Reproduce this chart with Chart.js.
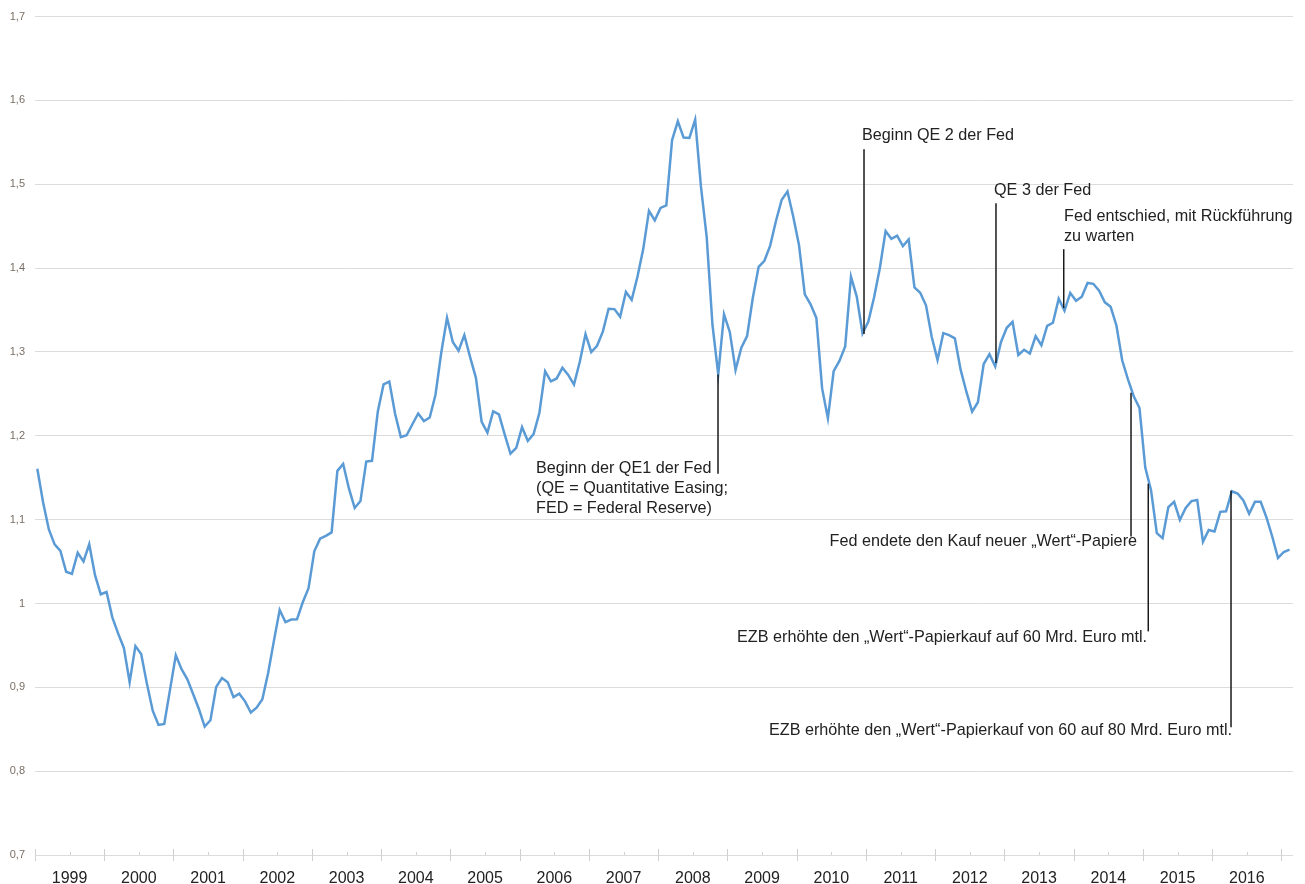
<!DOCTYPE html>
<html>
<head>
<meta charset="utf-8">
<script src="https://cdn.jsdelivr.net/npm/chart.js@4"></script>
<style>
  html, body { margin: 0; padding: 0; background: #fff; }
  #wrap { width: 1305px; height: 884px; position: relative; }
</style>
</head>
<body>
<div id="wrap"><canvas id="fxChart"></canvas></div>
<script>
// Euro in US-Dollar, Monatswerte ab Januar 1999
const yearLabels = ['1999','2000','2001','2002','2003','2004','2005','2006','2007',
                    '2008','2009','2010','2011','2012','2013','2014','2015','2016'];

const eurUsd = [
  1.1608,1.1208,1.0883,1.0704,1.0628,1.0378,1.0353,1.0604,1.0501,1.0706,1.0338,1.0110, // 1999
  1.0137,0.9834,0.9643,0.9470,0.9060,0.9492,0.9397,0.9041,0.8721,0.8552,0.8564,0.8973, // 2000
  0.9383,0.9217,0.9095,0.8920,0.8742,0.8532,0.8607,0.9005,0.9111,0.9059,0.8883,0.8924, // 2001
  0.8833,0.8700,0.8758,0.8858,0.9170,0.9554,0.9922,0.9778,0.9808,0.9811,1.0014,1.0183, // 2002
  1.0622,1.0773,1.0807,1.0848,1.1582,1.1663,1.1372,1.1139,1.1222,1.1692,1.1702,1.2286, // 2003
  1.2613,1.2646,1.2262,1.1985,1.2007,1.2138,1.2266,1.2176,1.2218,1.2490,1.2991,1.3408, // 2004
  1.3119,1.3014,1.3201,1.2938,1.2694,1.2165,1.2037,1.2292,1.2256,1.2015,1.1786,1.1856, // 2005
  1.2103,1.1938,1.2020,1.2271,1.2770,1.2650,1.2684,1.2811,1.2727,1.2611,1.2881,1.3213, // 2006
  1.2999,1.3074,1.3242,1.3516,1.3511,1.3419,1.3716,1.3622,1.3896,1.4227,1.4684,1.4570, // 2007
  1.4718,1.4748,1.5527,1.5751,1.5557,1.5553,1.5770,1.4975,1.4370,1.3322,1.2732,1.3449, // 2008
  1.3239,1.2785,1.3050,1.3190,1.3650,1.4016,1.4088,1.4268,1.4562,1.4816,1.4914,1.4614, // 2009
  1.4272,1.3686,1.3569,1.3406,1.2565,1.2209,1.2770,1.2894,1.3067,1.3898,1.3661,1.3220, // 2010
  1.3360,1.3649,1.3999,1.4442,1.4349,1.4388,1.4264,1.4343,1.3770,1.3706,1.3556,1.3179, // 2011
  1.2905,1.3224,1.3201,1.3162,1.2789,1.2526,1.2288,1.2400,1.2856,1.2974,1.2828,1.3119, // 2012
  1.3288,1.3359,1.2964,1.3026,1.2982,1.3189,1.3080,1.3310,1.3348,1.3635,1.3493,1.3704, // 2013
  1.3610,1.3659,1.3823,1.3813,1.3732,1.3592,1.3539,1.3316,1.2901,1.2673,1.2472,1.2331, // 2014
  1.1621,1.1350,1.0838,1.0779,1.1150,1.1213,1.0996,1.1139,1.1221,1.1235,1.0736,1.0877, // 2015
  1.0860,1.1093,1.1100,1.1339,1.1311,1.1229,1.1069,1.1212,1.1212,1.1026,1.0799,1.0543, // 2016
  1.0614,1.0643                                                                         // 2017
];

// Anmerkungen: Linie bei Monat "at" von Wert "from" bis "to", Text bei (tx, ty)
const notes = [
  { at: 117.96, from: 1.2732, to: 1.1548, tx: 86.42, ty: 1.1607, align: 'left',
    text: ['Beginn der QE1 der Fed', '(QE = Quantitative Easing;', 'FED = Federal Reserve)'] },
  { at: 143.26, from: 1.3214, to: 1.5417, tx: 142.91, ty: 1.5583, align: 'left',
    text: ['Beginn QE 2 der Fed'] },
  { at: 166.13, from: 1.2869, to: 1.4774, tx: 165.79, ty: 1.4929, align: 'left',
    text: ['QE 3 der Fed'] },
  { at: 177.87, from: 1.3524, to: 1.4226, tx: 177.92, ty: 1.4619, align: 'left',
    text: ['Fed entschied, mit Rückführung', 'zu warten'] },
  { at: 189.53, from: 1.2512, to: 1.0798, tx: 190.57, ty: 1.0738, align: 'right',
    text: ['Fed endete den Kauf neuer „Wert“-Papiere'] },
  { at: 192.52, from: 1.1429, to: 0.9667, tx: 192.30, ty: 0.9595, align: 'right',
    text: ['EZB erhöhte den „Wert“-Papierkauf auf 60 Mrd. Euro mtl.'] },
  { at: 206.86, from: 1.1345, to: 0.8524, tx: 207.03, ty: 0.8488, align: 'right',
    text: ['EZB erhöhte den „Wert“-Papierkauf von 60 auf 80 Mrd. Euro mtl.'] }
];

const FONT = '"Liberation Sans", Arial, Helvetica, sans-serif';

// Jahresstriche an der x-Achse
const yearTicks = {
  id: 'yearTicks',
  afterDraw(chart) {
    const ctx = chart.ctx;
    const x = chart.scales.x;
    const bottom = chart.chartArea.bottom;
    ctx.save();
    ctx.strokeStyle = '#d0d0d0';
    ctx.lineWidth = 1;
    for (let k = 0; k <= yearLabels.length; k++) {
      const px = Math.round(x.getPixelForValue(k * 12 - 0.4)) + 0.5;
      ctx.beginPath();
      ctx.moveTo(px, bottom - 6);
      ctx.lineTo(px, bottom + 6);
      ctx.stroke();
      if (k < yearLabels.length) {
        const mx = Math.round(x.getPixelForValue(k * 12 + 5.6)) + 0.5;
        ctx.beginPath();
        ctx.moveTo(mx, bottom - 3);
        ctx.lineTo(mx, bottom);
        ctx.stroke();
      }
    }
    ctx.restore();
  }
};

const noteLines = {
  id: 'noteLines',
  afterDatasetsDraw(chart) {
    const ctx = chart.ctx;
    const x = chart.scales.x, y = chart.scales.y;
    ctx.save();
    ctx.strokeStyle = '#1a1a1a';
    ctx.lineWidth = 1.5;
    ctx.fillStyle = '#222';
    ctx.font = '16.2px ' + FONT;
    ctx.textBaseline = 'middle';
    notes.forEach(n => {
      const px = x.getPixelForValue(n.at);
      ctx.beginPath();
      ctx.moveTo(px, y.getPixelForValue(n.from));
      ctx.lineTo(px, y.getPixelForValue(n.to));
      ctx.stroke();
      ctx.textAlign = n.align;
      const tx = x.getPixelForValue(n.tx);
      const ty = y.getPixelForValue(n.ty);
      n.text.forEach((line, i) => ctx.fillText(line, tx, ty + i * 20));
    });
    ctx.restore();
  }
};

new Chart('fxChart', {
  type: 'line',
  data: {
    datasets: [{
      data: eurUsd.map((v, i) => ({ x: i, y: v })),
      borderColor: '#5b9bd5',
      borderWidth: 2.5,
      pointRadius: 0,
      tension: 0,
      fill: false
    }]
  },
  options: {
    responsive: true,
    maintainAspectRatio: false,
    animation: false,
    layout: { padding: { top: 15, right: 12, left: 0, bottom: 0 } },
    plugins: {
      legend: { display: false },
      tooltip: { enabled: false }
    },
    scales: {
      x: {
        type: 'linear',
        min: -0.4,
        max: 217.6,
        grid: { display: false },
        border: { display: false },
        afterBuildTicks: scale => {
          scale.ticks = yearLabels.map((l, k) => ({ value: k * 12 + 5.6 }));
        },
        afterFit: scale => { scale.height = 29; },
        ticks: {
          autoSkip: false,
          maxRotation: 0,
          padding: 6,
          color: '#222',
          font: { size: 16, family: FONT },
          callback: (v, i) => yearLabels[i]
        }
      },
      y: {
        min: 0.7,
        max: 1.7,
        grid: { color: '#dcdcdc', lineWidth: 1, drawTicks: false },
        border: { display: false },
        afterFit: scale => { scale.width = 35; },
        ticks: {
          stepSize: 0.1,
          padding: 10,
          color: '#7a6e64',
          font: { size: 11, family: FONT },
          callback: v => String(Math.round(v * 10) / 10).replace('.', ',')
        }
      }
    }
  },
  plugins: [yearTicks, noteLines]
});
</script>
</body>
</html>
